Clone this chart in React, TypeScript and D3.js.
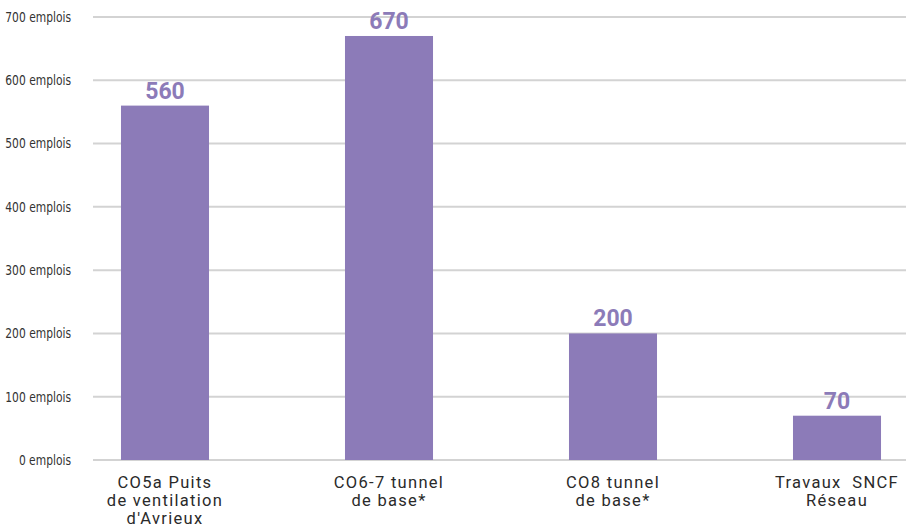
import React from "react";
import * as d3 from "d3";

const categories: string[][] = [
  ["CO5a Puits", "de ventilation", "d'Avrieux"],
  ["CO6-7 tunnel", "de base*"],
  ["CO8 tunnel", "de base*"],
  ["Travaux  SNCF", "Réseau"],
];
const values: number[] = [560, 670, 200, 70];
const yTicks: number[] = [0, 100, 200, 300, 400, 500, 600, 700];
const tickSuffix = " emplois";

const W = 914;
const H = 528;
const COLOR = "#8c7bb8";

export default function App() {
  const x = d3
    .scaleBand<number>()
    .domain(values.map((_, i) => i))
    .range([53, 949])
    .paddingInner(0.607)
    .paddingOuter(0.3035);
  const y = d3.scaleLinear().domain([0, 700]).range([460, 17]);

  return (
    <svg
      width={W}
      height={H}
      style={{ position: "absolute", left: 0, top: 0 }}
    >
      <rect width={W} height={H} fill="#fff" />
      {yTicks.map((t) => (
        <g key={t}>
          <line
            x1={93}
            x2={906}
            y1={y(t)}
            y2={y(t)}
            stroke="#d3d3d3"
            strokeWidth={2}
          />
          <text
            transform={`translate(71, ${y(t)}) scale(0.85, 1)`}
            dy="0.35em"
            textAnchor="end"
            fontFamily="'DejaVu Sans Condensed', 'DejaVu Sans', sans-serif"
            fontSize={14}
            fill="#333"
            style={{ fontStretch: "condensed" }}
          >
            {t + tickSuffix}
          </text>
        </g>
      ))}
      {values.map((v, i) => {
        const bx = x(i)!;
        const cx = bx + x.bandwidth() / 2;
        return (
          <g key={i}>
            <rect
              x={bx}
              y={y(v)}
              width={x.bandwidth()}
              height={y(0) - y(v)}
              fill={COLOR}
            />
            <text
              x={cx}
              y={y(v) - 7}
              textAnchor="middle"
              fontFamily="Roboto, sans-serif"
              fontWeight="bold"
              fontSize={23}
              fill={COLOR}
            >
              {v}
            </text>
            {categories[i].map((line, j) => (
              <text
                key={j}
                x={cx}
                y={488 + j * 18}
                textAnchor="middle"
                fontFamily="Roboto, sans-serif"
                fontSize={16.5}
                letterSpacing={1.3}
                fill="#2a2a2a"
                style={{ whiteSpace: "pre" }}
              >
                {line}
              </text>
            ))}
          </g>
        );
      })}
    </svg>
  );
}
